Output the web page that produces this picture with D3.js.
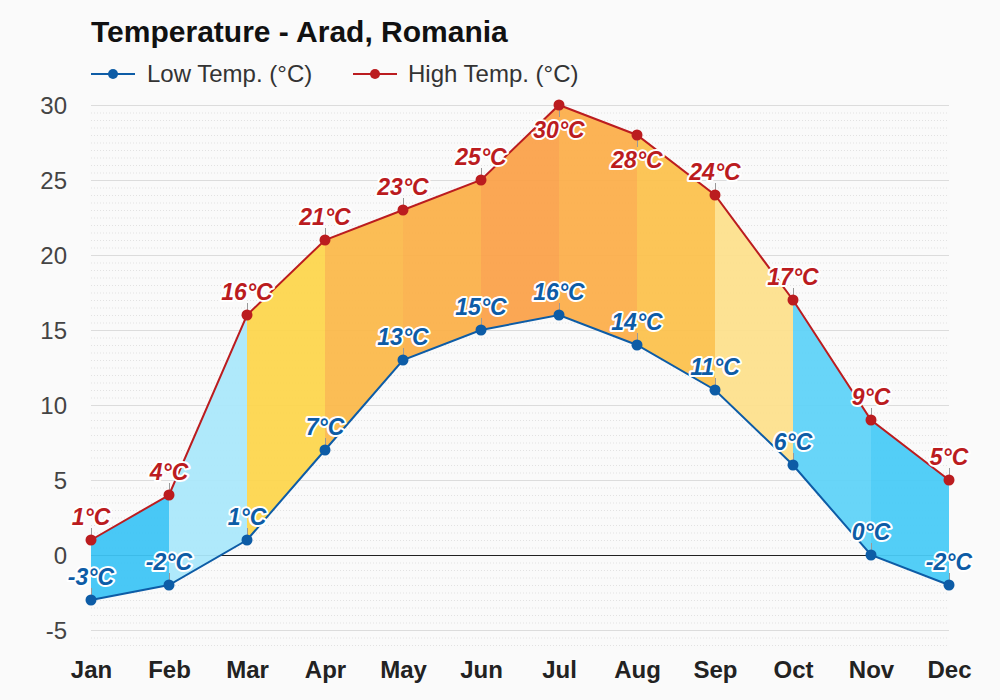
<!DOCTYPE html>
<html>
<head>
<meta charset="utf-8">
<script src="https://cdn.jsdelivr.net/npm/d3@7"></script>
<style>
  html, body { margin: 0; padding: 0; background: #fafafa; }
  svg { display: block; font-family: "Liberation Sans", Arial, sans-serif; }
</style>
</head>
<body>
<svg id="chart" width="1000" height="700"></svg>
<script>
const months = ["Jan","Feb","Mar","Apr","May","Jun","Jul","Aug","Sep","Oct","Nov","Dec"];
const lowTemps = [-3, -2, 1, 7, 13, 15, 16, 14, 11, 6, 0, -2];
const highTemps = [1, 4, 16, 21, 23, 25, 30, 28, 24, 17, 9, 5];
const bandColors = ["#3ec5f5","#aae8fb","#fdd64c","#fbb94a","#fbb049","#fba249","#fcae4a","#fcc14d","#fde08c","#5fd2f8","#48cbf7"];
const yTicks = [-5, 0, 5, 10, 15, 20, 25, 30];
const title = "Temperature - Arad, Romania";
const legendLabels = ["Low Temp. (°C)", "High Temp. (°C)"];

(function () {
const lowColor = "#0d5ca6";
const highColor = "#bb1c1f";
const FONT = "Liberation Sans, Arial, sans-serif";

const svg = d3.select("#chart");
const W = 1000, H = 700;
const pLeft = 91, pRight = 949, pTop = 105, pBottom = 645;

svg.append("rect").attr("width", W).attr("height", H).attr("fill", "#fafafa");

const x = d3.scalePoint().domain(months).range([pLeft, pRight]);
const y = d3.scaleLinear().domain([-6, 30]).range([pBottom, pTop]);

// minor dotted grid every 0.5
const minor = d3.range(-6, 30.01, 0.5).filter(v => !yTicks.includes(v));
svg.append("g").selectAll("line").data(minor).join("line")
  .attr("x1", pLeft).attr("x2", pRight)
  .attr("y1", d => y(d) + 0.5).attr("y2", d => y(d) + 0.5)
  .attr("stroke", "#e2e2e2").attr("stroke-width", 1)
  .attr("stroke-dasharray", "1,2");

// major grid
svg.append("g").selectAll("line").data(yTicks.filter(v => v !== 0)).join("line")
  .attr("x1", pLeft).attr("x2", pRight)
  .attr("y1", d => y(d) + 0.5).attr("y2", d => y(d) + 0.5)
  .attr("stroke", "#dcdcdc").attr("stroke-width", 1);

// zero line
svg.append("line")
  .attr("x1", pLeft).attr("x2", pRight)
  .attr("y1", y(0) + 0.5).attr("y2", y(0) + 0.5)
  .attr("stroke", "#222").attr("stroke-width", 1);

// bands
const bands = d3.range(months.length - 1).map(i => ({i, color: bandColors[i]}));
const area = d3.area().x(d => x(d.m)).y0(d => y(d.lo)).y1(d => y(d.hi));
svg.append("g").selectAll("path").data(bands).join("path")
  .attr("d", b => area([
    {m: months[b.i], lo: lowTemps[b.i], hi: highTemps[b.i]},
    {m: months[b.i+1], lo: lowTemps[b.i+1], hi: highTemps[b.i+1]}
  ]))
  .attr("fill", b => b.color)
  .attr("fill-opacity", 0.94);

// y axis labels
const yAxis = d3.axisLeft(y).tickValues(yTicks).tickSize(0).tickPadding(0)
  .tickFormat(d => String(d));
const gy = svg.append("g").attr("transform", `translate(67,0)`).call(yAxis);
gy.select(".domain").remove();
gy.selectAll("text")
  .attr("font-size", 24).attr("fill", "#444")
  .attr("font-family", FONT)
  .attr("dy", "0.36em");

// x axis labels
const xAxis = d3.axisBottom(x).tickSize(0).tickPadding(0);
const gx = svg.append("g").attr("transform", `translate(0,661)`).call(xAxis);
gx.select(".domain").remove();
gx.selectAll("text")
  .attr("font-size", 24).attr("font-weight", "bold").attr("fill", "#222")
  .attr("font-family", FONT)
  .attr("dy", "0.71em");

// lines
const line = d3.line().x((d, i) => x(months[i])).y(d => y(d));
svg.append("path").datum(lowTemps).attr("d", line)
  .attr("fill", "none").attr("stroke", lowColor).attr("stroke-width", 2);
svg.append("path").datum(highTemps).attr("d", line)
  .attr("fill", "none").attr("stroke", highColor).attr("stroke-width", 2);

// labels with connectors
function drawLabels(vals, color, belowFn) {
  const g = svg.append("g");
  vals.forEach((v, i) => {
    const px = x(months[i]), py = y(v);
    const below = belowFn(v);
    g.append("line")
      .attr("x1", px + 0.5).attr("x2", px + 0.5)
      .attr("y1", py).attr("y2", below ? py + 12 : py - 12)
      .attr("stroke", "#999").attr("stroke-width", 1);
    const t = g.append("text")
      .text(v + "°C")
      .attr("font-size", 23).attr("font-weight", "bold").attr("font-style", "italic")
      .attr("font-family", FONT)
      .attr("text-anchor", "middle")
      .attr("x", px)
      .attr("y", below ? py + 33 : py - 15)
      .attr("fill", color)
      .attr("stroke", "#fff").attr("stroke-width", 4)
      .attr("stroke-linejoin", "round")
      .attr("paint-order", "stroke");
    const w = t.node().getComputedTextLength();
    if (px + w / 2 > 972) t.attr("x", 972 - w / 2);
  });
  return g;
}

function drawMarkers(vals, color) {
  svg.append("g").selectAll("circle").data(vals).join("circle")
    .attr("cx", (d, i) => x(months[i])).attr("cy", d => y(d))
    .attr("r", 5.5).attr("fill", color);
}

drawLabels(lowTemps, lowColor, v => false);
drawLabels(highTemps, highColor, v => v >= 28);
drawMarkers(lowTemps, lowColor);
drawMarkers(highTemps, highColor);

// title
svg.append("text").text(title)
  .attr("x", 91).attr("y", 42)
  .attr("font-size", 30).attr("font-weight", "bold").attr("fill", "#111");

// legend
const legendItems = [
  {label: legendLabels[0], color: lowColor, x: 91, tx: 147},
  {label: legendLabels[1], color: highColor, x: 353, tx: 408}
];
const lg = svg.append("g");
legendItems.forEach(it => {
  lg.append("line").attr("x1", it.x).attr("x2", it.x + 44)
    .attr("y1", 74).attr("y2", 74).attr("stroke", it.color).attr("stroke-width", 2);
  lg.append("circle").attr("cx", it.x + 22).attr("cy", 74).attr("r", 5).attr("fill", it.color);
  lg.append("text").text(it.label).attr("x", it.tx).attr("y", 82)
    .attr("font-size", 24).attr("fill", "#333");
});
})();
</script>
</body>
</html>
